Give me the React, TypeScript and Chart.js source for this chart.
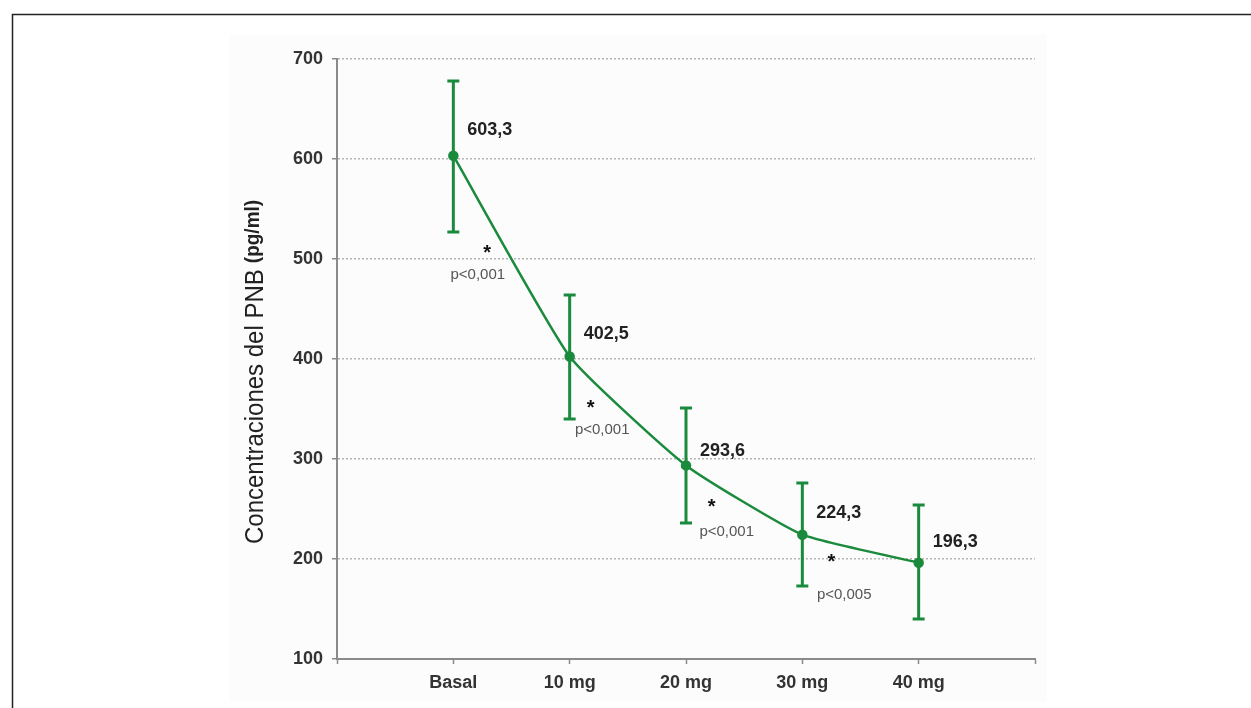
import React, { useEffect, useRef } from "react";
import { Chart, registerables } from "chart.js";

Chart.register(...registerables);

const categories = ["Basal", "10 mg", "20 mg", "30 mg", "40 mg"];
const means = [603.3, 402.5, 293.6, 224.3, 196.3];
const upper = [678, 464, 351, 276, 254];
const lower = [527, 340, 236, 173, 140];
const meanLabels = ["603,3", "402,5", "293,6", "224,3", "196,3"];
const yTicks = [100, 200, 300, 400, 500, 600, 700];
const sigLabels = ["p<0,001", "p<0,001", "p<0,001", "p<0,005"];
const sigStarX = [1.29, 2.18, 3.22, 4.25];
const sigStarY = [511, 356, 257, 202];
const sigTextX = [1.21, 2.28, 3.35, 4.36];
const sigTextY = [484, 329, 227, 164];

const GREEN = "#1a8a3c";
const FONT = "'Liberation Sans', Arial, sans-serif";
const labelDy = [-26, -22, -14, -22, -21];

const decorPlugin = {
  id: "decor",
  beforeDraw(chart: any) {
    const ctx = chart.ctx;
    ctx.save();
    ctx.fillStyle = "#ffffff";
    ctx.fillRect(0, 0, chart.width, chart.height);
    ctx.fillStyle = "#fcfcfc";
    ctx.fillRect(230, 34, 817, 668);
    ctx.strokeStyle = "#222222";
    ctx.lineWidth = 1.5;
    ctx.strokeRect(12.5, 14.5, 1400, 900);
    ctx.restore();
  },
  afterDraw(chart: any) {
    const ctx = chart.ctx;
    const xs = chart.scales.x;
    const ys = chart.scales.y;
    ctx.save();
    // error bars
    ctx.strokeStyle = GREEN;
    ctx.lineWidth = 3;
    for (let i = 0; i < means.length; i++) {
      const px = xs.getPixelForValue(i + 1);
      const pt = ys.getPixelForValue(upper[i]);
      const pb = ys.getPixelForValue(lower[i]);
      ctx.beginPath();
      ctx.moveTo(px, pt);
      ctx.lineTo(px, pb);
      ctx.moveTo(px - 6, pt);
      ctx.lineTo(px + 6, pt);
      ctx.moveTo(px - 6, pb);
      ctx.lineTo(px + 6, pb);
      ctx.stroke();
    }
    // mean labels
    ctx.fillStyle = "#222222";
    ctx.font = `bold 18px ${FONT}`;
    ctx.textAlign = "left";
    ctx.textBaseline = "middle";
    for (let i = 0; i < means.length; i++) {
      const px = xs.getPixelForValue(i + 1);
      const py = ys.getPixelForValue(means[i]);
      ctx.fillText(meanLabels[i], px + 14, py + labelDy[i]);
    }
    // significance
    for (let i = 0; i < sigLabels.length; i++) {
      ctx.fillStyle = "#111111";
      ctx.font = `bold 20px ${FONT}`;
      ctx.textAlign = "center";
      ctx.textBaseline = "alphabetic";
      ctx.fillText("*", xs.getPixelForValue(sigStarX[i]), ys.getPixelForValue(sigStarY[i]) + 11);
      ctx.fillStyle = "#555555";
      ctx.font = `15px ${FONT}`;
      ctx.textBaseline = "middle";
      ctx.fillText(sigLabels[i], xs.getPixelForValue(sigTextX[i]), ys.getPixelForValue(sigTextY[i]));
    }
    // y-axis title
    ctx.translate(256, 544);
    ctx.rotate(-Math.PI / 2);
    ctx.scale(1, 1.08);
    ctx.textAlign = "left";
    ctx.textBaseline = "middle";
    ctx.fillStyle = "#222222";
    const main = "Concentraciones del PNB";
    ctx.font = `24px ${FONT}`;
    ctx.fillText(main, 0, 0);
    const w = ctx.measureText(main).width + 6;
    ctx.font = `bold 19px ${FONT}`;
    ctx.fillText("(pg/ml)", w, -2);
    ctx.restore();
  },
};

export default function App() {
  const ref = useRef<HTMLCanvasElement | null>(null);
  useEffect(() => {
    if (!ref.current) return;
    const chart = new Chart(ref.current, {
      type: "line",
      data: {
        datasets: [
          {
            data: means.map((v, i) => ({ x: i + 1, y: v })),
            borderColor: GREEN,
            backgroundColor: GREEN,
            borderWidth: 2.5,
            pointRadius: 4,
            pointBackgroundColor: GREEN,
            pointBorderColor: GREEN,
            tension: 0.15,
          },
        ],
      },
      options: {
        responsive: false,
        animation: false,
        layout: { padding: { left: 0, right: 216, top: 59, bottom: 0 } },
        plugins: { legend: { display: false }, tooltip: { enabled: false } },
        scales: {
          x: {
            type: "linear",
            min: 0,
            max: 6,
            afterFit: (s: any) => {
              s.height = 49;
            },
            afterBuildTicks: (s: any) => {
              s.ticks = [0, 1, 2, 3, 4, 5, 6].map((v) => ({ value: v }));
            },
            ticks: {
              autoSkip: false,
              maxRotation: 0,
              padding: 8,
              color: "#333333",
              font: { family: FONT, size: 18, weight: "bold" },
              callback: (v: any) => categories[Number(v) - 1] ?? "",
            },
            grid: {
              drawOnChartArea: false,
              drawTicks: true,
              tickLength: 5,
              color: "#8a8a8a",
              tickWidth: 1.5,
            },
            border: { color: "#8a8a8a", width: 2 },
          },
          y: {
            type: "linear",
            min: 100,
            max: 700,
            afterFit: (s: any) => {
              s.width = 337;
            },
            afterBuildTicks: (s: any) => {
              s.ticks = yTicks.map((v) => ({ value: v }));
            },
            ticks: {
              padding: 9,
              color: "#333333",
              font: { family: FONT, size: 18, weight: "bold" },
            },
            grid: {
              color: "#b5b5b5",
              lineWidth: 1.5,
              drawTicks: true,
              tickLength: 5,
              tickColor: "#8a8a8a",
              tickWidth: 1.5,
            },
            border: { color: "#8a8a8a", width: 2, dash: [2, 2] },
          },
        },
      },
      plugins: [decorPlugin],
    } as any);
    return () => chart.destroy();
  }, []);
  return (
    <div style={{ position: "absolute", left: 0, top: 0, width: 1251, height: 708 }}>
      <canvas ref={ref} width={1251} height={708} style={{ display: "block" }} />
    </div>
  );
}
